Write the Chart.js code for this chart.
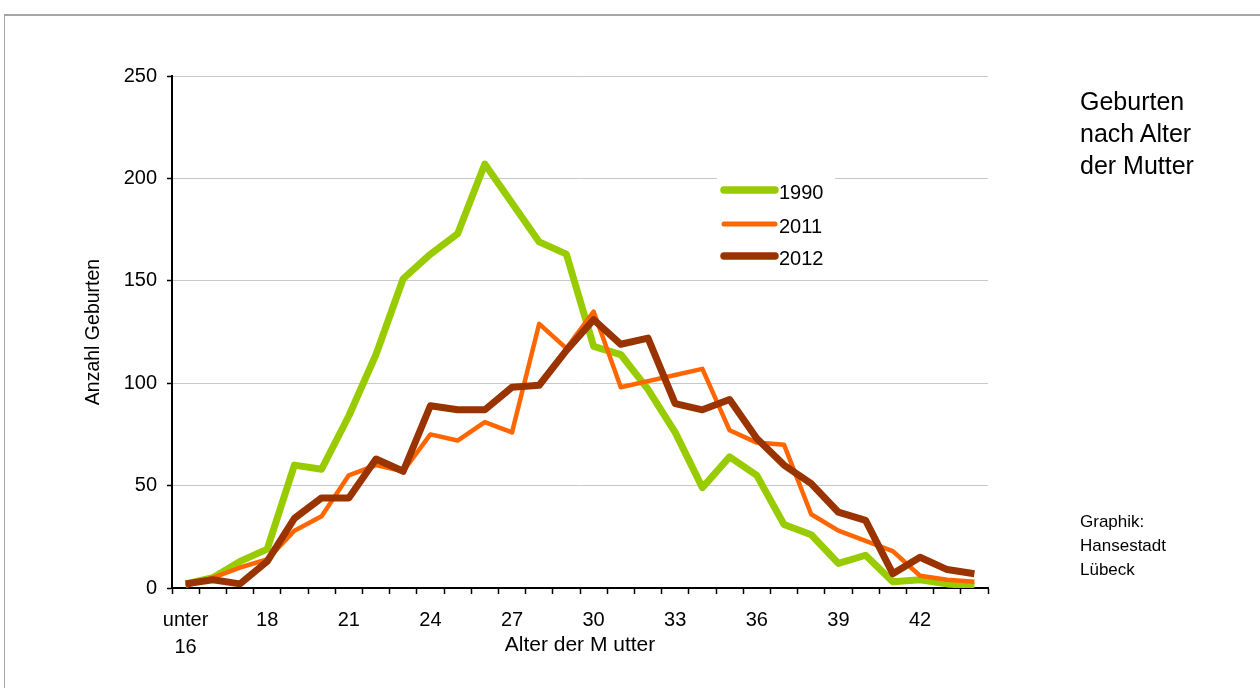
<!DOCTYPE html>
<html>
<head>
<meta charset="utf-8">
<script src="https://cdn.jsdelivr.net/npm/chart.js@4/dist/chart.umd.min.js"></script>
<style>
  html, body { margin: 0; padding: 0; background: #ffffff; }
  body { width: 1260px; height: 688px; position: relative; overflow: hidden; font-family: "Liberation Sans", Arial, sans-serif; }
  #frame { position: absolute; left: 4px; top: 14px; width: 1300px; height: 700px; border-top: 2px solid #a6a6a6; border-left: 1px solid #a6a6a6; }
  #wrap { position: absolute; left: 0; top: 0; width: 1260px; height: 688px; }
  .side { position: absolute; left: 1080px; color: #000; white-space: nowrap; }
  #title { top: 85px; font-size: 25px; line-height: 32px; }
  #credit { top: 510px; font-size: 17px; line-height: 24px; }
</style>
</head>
<body>
<div id="frame"></div>
<div id="wrap"><canvas id="c" width="1260" height="688"></canvas></div>
<div class="side" id="title">Geburten<br>nach Alter<br>der Mutter</div>
<div class="side" id="credit">Graphik:<br>Hansestadt<br>Lübeck</div>
<script>
// ---- data ----
const ageCategories = ["unter 16","16","17","18","19","20","21","22","23","24","25","26","27","28","29",
  "30","31","32","33","34","35","36","37","38","39","40","41","42","43","44"];
const tickLabels = [["unter","16"],"18","21","24","27","30","33","36","39","42"];
const labelEvery = 3;
const seriesNames = ["1990","2011","2012"];
const births1990 = [2,5,13,19,60,58,84,114,151,163,173,207,188,169,163,118,114,97,76,49,64,55,31,26,12,16,3,4,2,1];
const births2011 = [1,5,10,14,28,35,55,60,57,75,72,81,76,129,117,135,98,101,104,107,77,71,70,36,28,23,18,6,4,3];
const births2012 = [2,4,2,13,34,44,44,63,57,89,87,87,98,99,116,131,119,122,90,87,92,73,60,51,37,33,7,15,9,7];
const yTicks = [0,50,100,150,200,250];

const FONT = '"Liberation Sans", Arial, sans-serif';
const colors = ["#99cc00","#ff6600","#993300"];
const widths = [7, 4.5, 7];

const legendPlugin = {
  id: 'insideLegend',
  afterDatasetsDraw(chart) {
    const ctx = chart.ctx;
    ctx.save();
    ctx.fillStyle = '#ffffff';
    ctx.fillRect(717, 172, 118, 100);
    const rows = [193, 227, 259];
    chart.data.datasets.forEach((ds, i) => {
      const y = rows[i];
      ctx.strokeStyle = ds.borderColor;
      ctx.lineWidth = ds.borderWidth + 0.5;
      ctx.lineCap = 'round';
      ctx.beginPath();
      ctx.moveTo(724, y - 3);
      ctx.lineTo(775, y - 3);
      ctx.stroke();
      ctx.fillStyle = '#000';
      ctx.font = '20px ' + FONT;
      ctx.textBaseline = 'middle';
      ctx.textAlign = 'left';
      ctx.fillText(ds.label, 779, y);
    });
    ctx.restore();
  }
};

const datasetsRaw = [births1990, births2011, births2012];
new Chart(document.getElementById('c'), {
  type: 'line',
  data: {
    labels: ageCategories,
    datasets: datasetsRaw.map((d, i) => ({
      label: seriesNames[i],
      data: d,
      borderColor: colors[i],
      backgroundColor: colors[i],
      borderWidth: widths[i],
      pointRadius: 0,
      tension: 0,
      fill: false,
      borderJoinStyle: 'round',
      order: 2 - i
    }))
  },
  options: {
    responsive: false,
    animation: false,
    devicePixelRatio: 1,
    layout: { padding: { top: 76, right: 272, bottom: 0, left: 0 } },
    plugins: { legend: { display: false }, tooltip: { enabled: false } },
    scales: {
      x: {
        type: 'category',
        offset: true,
        grid: { display: true, drawOnChartArea: false, drawTicks: true, tickLength: 6, tickColor: '#000', tickWidth: 1.5, offset: true },
        border: { display: true, color: '#000', width: 2 },
        ticks: {
          autoSkip: false, maxRotation: 0, minRotation: 0, padding: 13, color: '#000',
          font: { family: FONT, size: 20, lineHeight: 1.35 },
          callback: (v, idx) => idx % labelEvery === 0 ? tickLabels[idx / labelEvery] : ''
        },
        title: { display: true, text: 'Alter der M utter', color: '#000', font: { family: FONT, size: 21 }, padding: { top: 0, bottom: 30 } },
        afterFit: (s) => { s.height = 100; }
      },
      y: {
        min: 0, max: 250,
        afterBuildTicks: (s) => { s.ticks = yTicks.map(v => ({ value: v })); },
        grid: { color: '#c8c8c8', lineWidth: 1, drawTicks: true, tickLength: 5, tickColor: '#000', tickWidth: 1.5 },
        border: { display: true, color: '#000', width: 2 },
        ticks: { padding: 10, color: '#000', font: { family: FONT, size: 20 } },
        title: { display: true, text: 'Anzahl Geburten', color: '#000', font: { family: FONT, size: 19.5 }, padding: { top: 82, bottom: 0 } },
        afterFit: (s) => { s.width = 172; }
      }
    }
  },
  plugins: [legendPlugin]
});
</script>
</body>
</html>
